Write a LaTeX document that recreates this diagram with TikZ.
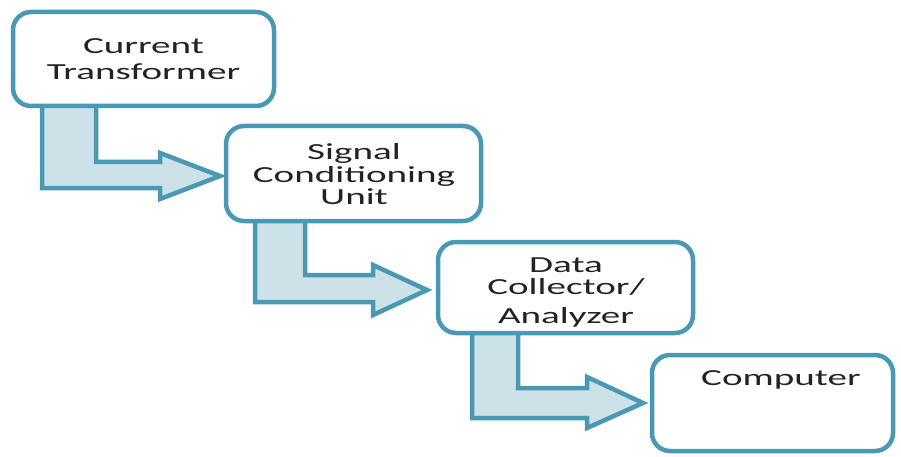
\documentclass[tikz,border=0pt]{standalone}
\usepackage{fontspec}
\setmainfont{Carlito}[FakeStretch=1.7]
\usetikzlibrary{calc}
\definecolor{teal1}{HTML}{4A99B4}
\definecolor{fill1}{HTML}{CDE1E9}
\definecolor{txt}{HTML}{222222}
\begin{document}
\begin{tikzpicture}[x=1pt,y=-1pt,
  box/.style={draw=teal1,line width=4.5pt,fill=white,rounded corners=18pt,inner sep=0pt},
  barrow/.style={draw=teal1,line width=4.5pt,fill=fill1,line join=miter},
  lbl/.style={text=txt,align=center,inner sep=0pt,font=\fontsize{23}{26}\selectfont}]
\useasboundingbox (0,0) rectangle (901,457);
% box corners
\coordinate (b1nw) at (13,12);   \coordinate (b1se) at (274,106);
\coordinate (b2nw) at (226,126); \coordinate (b2se) at (481,221);
\coordinate (b3nw) at (438,242); \coordinate (b3se) at (693,333);
\coordinate (b4nw) at (652,355); \coordinate (b4se) at (893,451);
% bent block arrows (drawn first, boxes cover stem tops)
\draw[barrow] (42,100) -- (96,100) -- (96,162) -- (160,162) -- (160,153) -- (220,176)
  -- (160,199) -- (160,188) -- (42,188) -- cycle;
\draw[barrow] (255,215) -- (305,215) -- (305,275) -- (373,275) -- (373,265) -- (427,290)
  -- (373,315) -- (373,302) -- (255,302) -- cycle;
\draw[barrow] (472,327) -- (518,327) -- (518,388) -- (587,388) -- (587,377) -- (643,403)
  -- (587,428) -- (587,418) -- (472,418) -- cycle;
% boxes
\node[box,minimum width=261pt,minimum height=94pt] (b1) at ($(b1nw)!0.5!(b1se)$) {};
\node[box,minimum width=255pt,minimum height=95pt] (b2) at ($(b2nw)!0.5!(b2se)$) {};
\node[box,minimum width=255pt,minimum height=91pt] (b3) at ($(b3nw)!0.5!(b3se)$) {};
\node[box,minimum width=241pt,minimum height=96pt] (b4) at ($(b4nw)!0.5!(b4se)$) {};
% labels
\node[lbl] (t1) at (143.5,59) {Current\\Transformer};
\node[lbl,font=\fontsize{23}{22.5}\selectfont] (t2) at (354,174.5) {Signal\\Conditioning\\Unit};
\node[lbl,font=\fontsize{23}{22.5}\selectfont] (t3) at (566,292) {Data\\Collector/\\[6pt]Analyzer};
\node[lbl,anchor=base] (t4) at (781,385) {Computer};
\end{tikzpicture}
\end{document}
